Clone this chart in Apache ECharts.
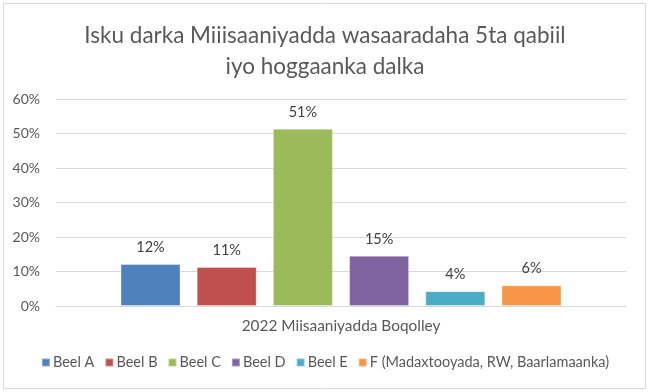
<!DOCTYPE html>
<html>
<head>
<meta charset="utf-8">
<script src="https://cdn.jsdelivr.net/npm/echarts@6/dist/echarts.min.js"></script>
<style>html,body{margin:0;padding:0;background:#fff}#c{width:650px;height:392px}</style>
</head>
<body>
<div id="c"></div>
<script>
const categories = ['2022 Miisaaniyadda Boqolley'];
const seriesNames = ['Beel A', 'Beel B', 'Beel C', 'Beel D', 'Beel E', 'F (Madaxtooyada, RW, Baarlamaanka)'];
const seriesValues = [0.122, 0.113, 0.514, 0.146, 0.043, 0.060];
const colors = ['#4F81BD', '#C0504D', '#9BBB59', '#8064A2', '#4BACC6', '#F79646'];
const titleLines = ['Isku darka Miiisaaniyadda wasaaradaha 5ta qabiil', 'iyo hoggaanka dalka'];

const FONT = 'Lato';
const chart = echarts.init(document.getElementById('c'));
chart.setOption({
  backgroundColor: '#ffffff',
  animation: false,
  textStyle: { fontFamily: FONT },
  graphic: [{
    type: 'rect', shape: { x: 3.5, y: 3.5, width: 642, height: 385 },
    style: { fill: 'none', stroke: '#d9d9d9', lineWidth: 1 }, silent: true, z: -1
  }],
  title: {
    text: titleLines.join('\n'),
    left: 'center', top: 15,
    textStyle: { fontFamily: FONT, fontSize: 22.5, fontWeight: 'normal', color: '#595959', lineHeight: 31 }
  },
  legend: {
    bottom: 17, left: 'center',
    itemWidth: 8, itemHeight: 8, itemGap: 10,
    icon: 'rect',
    textStyle: { fontFamily: FONT, fontSize: 14.5, color: '#595959', padding: [0, 0, 0, -2] },
    data: seriesNames
  },
  grid: { left: 56, right: 24, top: 99, bottom: 86, containLabel: false },
  xAxis: {
    type: 'category', data: categories,
    axisLine: { lineStyle: { color: '#d9d9d9' } },
    axisTick: { show: false },
    axisLabel: { fontFamily: FONT, fontSize: 15.4, color: '#595959', margin: 13 }
  },
  yAxis: {
    type: 'value', min: 0, max: 0.6, interval: 0.1,
    axisLine: { show: false }, axisTick: { show: false },
    splitLine: { lineStyle: { color: '#d9d9d9', width: 1 } },
    axisLabel: { fontFamily: FONT, fontSize: 14, color: '#595959', margin: 16,
      formatter: v => Math.round(v * 100) + '%' }
  },
  series: seriesNames.map((n, i) => ({
    name: n, type: 'bar',
    data: [seriesValues[i]],
    barWidth: 60, barGap: '27%',
    itemStyle: { color: colors[i], borderColor: 'rgba(255,255,255,0.35)', borderWidth: 1 },
    label: { show: true, position: 'top', distance: 9, fontFamily: FONT, fontSize: 14.5, color: '#404040',
      formatter: p => Math.round(p.value * 100) + '%' }
  }))
});
</script>
</body>
</html>
